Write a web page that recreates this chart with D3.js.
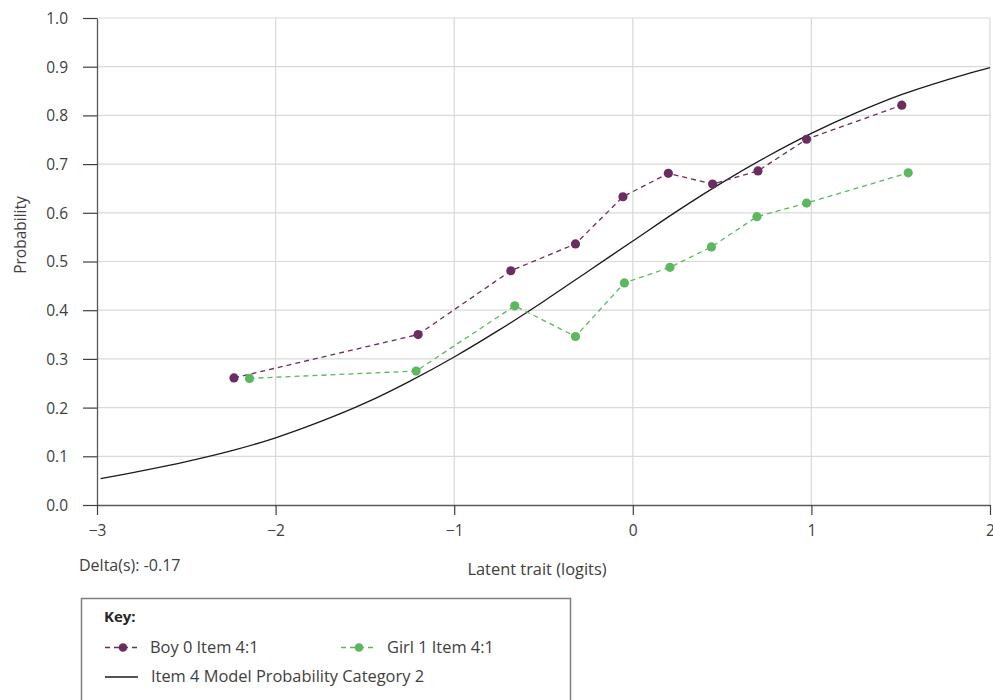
<!DOCTYPE html>
<html><head><meta charset="utf-8">
<script src="https://cdn.jsdelivr.net/npm/d3@7"></script>
<style>
body{margin:0;background:#fff;}
svg{display:block;font-family:"Open Sans","Noto Sans",sans-serif;}
</style></head>
<body>
<svg id="chart" width="993" height="700"></svg>
<script>
// ---- data ----
const boyX = [-2.233, -1.202, -0.683, -0.321, -0.055, 0.199, 0.447, 0.701, 0.973, 1.506];
const boyY = [0.261, 0.350, 0.481, 0.536, 0.633, 0.681, 0.659, 0.686, 0.751, 0.821];
const girlX = [-2.146, -1.213, -0.661, -0.321, -0.047, 0.208, 0.440, 0.695, 0.973, 1.542];
const girlY = [0.260, 0.275, 0.409, 0.346, 0.456, 0.488, 0.530, 0.592, 0.620, 0.682];
const modelX = [-2.98, -2.75, -2.5, -2.25, -2, -1.75, -1.5, -1.25, -1, -0.75, -0.5, -0.25, 0, 0.25, 0.5, 0.75, 1, 1.25, 1.5, 1.75, 2];
const modelY = [0.054, 0.070, 0.089, 0.111, 0.138, 0.171, 0.209, 0.254, 0.304, 0.359, 0.418, 0.480, 0.542, 0.604, 0.662, 0.715, 0.763, 0.805, 0.842, 0.872, 0.898];
const xTicks = [-3, -2, -1, 0, 1, 2];
const yTicks = [0, 0.1, 0.2, 0.3, 0.4, 0.5, 0.6, 0.7, 0.8, 0.9, 1.0];
const seriesNames = ["Boy 0 Item 4:1", "Girl 1 Item 4:1", "Item 4 Model Probability Category 2"];
const deltaText = "Delta(s): -0.17";

const purple = "#6a2d60", green = "#5db75e";
const FS = "16.4px";
const svg = d3.select("#chart");
const L = 97, R = 990, T = 18, B = 505;
const x = d3.scaleLinear().domain([-3, 2]).range([L, R]);
const y = d3.scaleLinear().domain([0, 1]).range([B, T]);

// grid
svg.append("g").selectAll("line").data(yTicks.slice(1)).join("line")
  .attr("x1", L).attr("x2", R).attr("y1", d => y(d)).attr("y2", d => y(d))
  .attr("stroke", "#d9d9d9").attr("stroke-width", 1.2);
svg.append("g").selectAll("line").data(xTicks.slice(1)).join("line")
  .attr("x1", d => x(d)).attr("x2", d => x(d)).attr("y1", T).attr("y2", B)
  .attr("stroke", "#d9d9d9").attr("stroke-width", 1.2);

// axes
const yAxis = svg.append("g").attr("transform", `translate(${L},0)`)
  .call(d3.axisLeft(y).tickValues(yTicks).tickFormat(d3.format(".1f")).tickSizeInner(14).tickSizeOuter(0).tickPadding(15));
const xAxis = svg.append("g").attr("transform", `translate(0,${B})`)
  .call(d3.axisBottom(x).tickValues(xTicks).tickFormat(d => d < 0 ? "\u2212" + Math.abs(d) : d).tickSizeInner(10).tickSizeOuter(0).tickPadding(10));
[yAxis, xAxis].forEach(a => {
  a.select(".domain").attr("stroke", "#595959").attr("stroke-width", 1.3);
  a.selectAll(".tick line").attr("stroke", "#404040").attr("stroke-width", 1.2);
  a.selectAll(".tick text").attr("fill", "#404040").style("font-size", "15.5px").style("font-family", "'Open Sans',sans-serif");
});
yAxis.selectAll(".tick text").attr("dy", "0.35em");

// axis titles
svg.append("text").attr("transform", "translate(26,235) rotate(-90)").attr("text-anchor", "middle")
  .attr("fill", "#404040").style("font-size", "15.5px").text("Probability");
svg.append("text").attr("x", 537).attr("y", 575).attr("text-anchor", "middle")
  .attr("fill", "#404040").style("font-size", FS).text("Latent trait (logits)");
svg.append("text").attr("x", 79).attr("y", 571)
  .attr("fill", "#404040").style("font-size", "16px").text(deltaText);

// model curve
const line = d3.line().x(d => x(d[0])).y(d => y(d[1])).curve(d3.curveCatmullRom);
svg.append("path").datum(modelX.map((v, i) => [v, modelY[i]])).attr("d", line)
  .attr("fill", "none").attr("stroke", "#1a1a1a").attr("stroke-width", 1.3);

// series
function drawSeries(xs, ys, color) {
  const pts = xs.map((v, i) => [v, ys[i]]);
  svg.append("path").datum(pts).attr("d", d3.line().x(d => x(d[0])).y(d => y(d[1])))
    .attr("fill", "none").attr("stroke", color).attr("stroke-width", 1.3).attr("stroke-dasharray", "5,4");
  svg.append("g").selectAll("circle").data(pts).join("circle")
    .attr("cx", d => x(d[0])).attr("cy", d => y(d[1])).attr("r", 4.6).attr("fill", color);
}
drawSeries(boyX, boyY, purple);
drawSeries(girlX, girlY, green);

// legend
const lg = svg.append("g");
lg.append("rect").attr("x", 81.5).attr("y", 598.5).attr("width", 489).attr("height", 120)
  .attr("fill", "#fff").attr("stroke", "#7f7f7f").attr("stroke-width", 1.5);
lg.append("text").attr("x", 104).attr("y", 622).attr("font-weight", "bold").attr("fill", "#262626")
  .style("font-size", "15px").text("Key:");
function legItem(x0, yy, color, dashed, label, tx) {
  lg.append("line").attr("x1", x0).attr("x2", x0 + (dashed ? 36 : 33)).attr("y1", yy).attr("y2", yy)
    .attr("stroke", color).attr("stroke-width", 1.3).attr("stroke-dasharray", dashed ? "5,4" : null);
  if (dashed) lg.append("circle").attr("cx", x0 + 18).attr("cy", yy).attr("r", 4.3).attr("fill", color);
  lg.append("text").attr("x", tx).attr("y", yy + 5).attr("fill", "#404040").style("font-size", FS).text(label);
}
legItem(105, 647.5, purple, true, seriesNames[0], 150);
legItem(341, 647.5, green, true, seriesNames[1], 387);
legItem(105, 677, "#1a1a1a", false, seriesNames[2], 151);
</script>
</body></html>
